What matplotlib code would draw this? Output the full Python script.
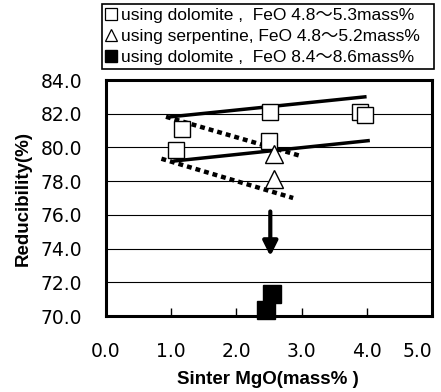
import matplotlib
matplotlib.use('Agg')
import matplotlib.pyplot as plt
from matplotlib.lines import Line2D

plt.rcParams['font.family'] = ['Liberation Sans', 'Noto Sans CJK JP', 'DejaVu Sans']

# open squares: dolomite, FeO 4.8-5.3
dol_x = [1.07, 1.16, 2.50, 2.52, 3.90, 3.97]
dol_y = [79.85, 81.1, 80.4, 82.1, 82.1, 81.9]
# open triangles: serpentine, FeO 4.8-5.2
serp_x = [2.57, 2.58]
serp_y = [79.6, 78.1]
# filled squares: dolomite, FeO 8.4-8.6
hi_x = [2.54, 2.45]
hi_y = [71.3, 70.35]

# trend lines (start, end)
solid1_x, solid1_y = [1.0, 3.97], [81.82, 83.0]
solid2_x, solid2_y = [1.06, 4.02], [79.2, 80.4]
dot1_x, dot1_y = [0.92, 2.98], [81.82, 79.5]
dot2_x, dot2_y = [0.85, 2.87], [79.33, 77.0]

arrow_x = 2.52
arrow_y = [76.2, 73.55]

xticks = [0, 1, 2, 3, 4, 5]
xlabels = ['0.0', '1.0', '2.0', '3.0', '4.0', '5.0']
yticks = [70, 72, 74, 76, 78, 80, 82, 84]
ylabels = ['70.0', '72.0', '74.0', '76.0', '78.0', '80.0', '82.0', '84.0']

legend_labels = ['using dolomite ,  FeO 4.8～5.3mass%',
                 'using serpentine, FeO 4.8～5.2mass%',
                 'using dolomite ,  FeO 8.4～8.6mass%']

W, H = 441, 392
fig = plt.figure(figsize=(W / 100, H / 100), dpi=100)
ax = fig.add_axes([106 / W, 1 - 316 / H, 326 / W, 236 / H])

ax.set_xlim(0, 5)
ax.set_ylim(70, 84)
ax.set_xticks(xticks)
ax.set_xticklabels(xlabels, fontfamily='DejaVu Sans')
ax.set_yticks(yticks)
ax.set_yticklabels(ylabels, fontfamily='DejaVu Sans')
ax.tick_params(axis='x', direction='in', length=6, width=1, pad=19, labelsize=13.5)
ax.tick_params(axis='y', length=0, pad=17, labelsize=13.5)
ax.get_xticklabels()[-1].set_ha('right')
for s in ax.spines.values():
    s.set_linewidth(2.2)
ax.grid(axis='y', color='black', linewidth=0.8)
ax.set_axisbelow(True)

ax.plot(solid1_x, solid1_y, color='black', lw=2.5)
ax.plot(solid2_x, solid2_y, color='black', lw=2.5)
ax.plot(dot1_x, dot1_y, color='black', lw=3.2, linestyle=(0, (1.1, 0.9)))
ax.plot(dot2_x, dot2_y, color='black', lw=3.2, linestyle=(0, (1.1, 0.9)))

ax.plot(dol_x, dol_y, 's', ms=12, mfc='white', mec='black', mew=1.0, ls='none')
ax.plot(serp_x, serp_y, '^', ms=12.5, mfc='white', mec='black', mew=1.0, ls='none')
ax.plot(hi_x, hi_y, 's', ms=12.5, mfc='black', mec='black', ls='none', clip_on=False, zorder=5)

ax.annotate('', xy=(arrow_x, arrow_y[1]), xytext=(arrow_x, arrow_y[0]),
            arrowprops=dict(arrowstyle='-|>', color='black', lw=3,
                            mutation_scale=22, shrinkA=0, shrinkB=0))

fig.text(23 / W, 1 - 199 / H, 'Reducibility(%)', rotation=90, ha='center', va='center',
         fontsize=13.5, fontweight='bold')
fig.text(268 / W, 1 - 380 / H, 'Sinter MgO(mass% )', ha='center', va='center',
         fontsize=13.5, fontweight='bold')

handles = [Line2D([], [], marker='s', ms=8, mfc='white', mec='black', mew=0.9, ls='none'),
           Line2D([], [], marker='^', ms=8, mfc='white', mec='black', mew=0.9, ls='none'),
           Line2D([], [], marker='s', ms=8, mfc='black', mec='black', ls='none')]
leg = fig.legend(handles, legend_labels, loc='upper left',
                 bbox_to_anchor=(102 / W, 1 - 73 / H, 332 / W, 69 / H), mode='expand',
                 borderaxespad=0, fontsize=12.5, handlelength=0.5, handletextpad=0.35,
                 labelspacing=0.32, borderpad=0.25, fancybox=False, edgecolor='black',
                 framealpha=1)
leg.get_frame().set_linewidth(1.2)

fig.savefig('out.png', dpi=100)
